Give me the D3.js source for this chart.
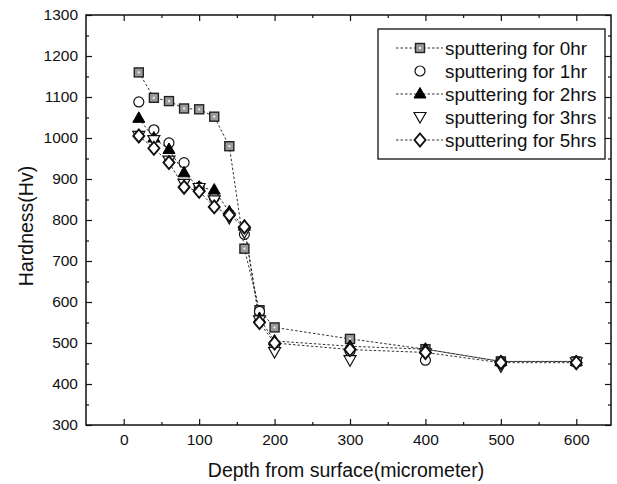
<!DOCTYPE html>
<html>
<head>
<meta charset="utf-8">
<script src="https://cdn.jsdelivr.net/npm/d3@7"></script>
<style>
  body { margin: 0; background: #fff; }
  text { font-family: "Liberation Sans", Arial, sans-serif; fill: #111; }
</style>
</head>
<body>
<div id="chart"></div>
<script>
// depth (micrometer)
const depth = [20, 40, 60, 80, 100, 120, 140, 160, 180, 200, 300, 400, 500, 600];
// hardness (Hv) per sputtering time
const hr0 = [1160, 1098, 1090, 1072, 1070, 1052, 980, 730, 580, 538, 510, 485, 455, 455];
const hr1 = [1088, 1020, 988, 940, 880, 855, 815, 765, 577, 495, 480, 458, 455, 455];
const hr2 = [1048, 1000, 972, 915, 880, 873, 820, 785, 560, 505, 492, 485, 455, 455];
const hr3 = [1005, 995, 945, 888, 878, 848, 805, 770, 555, 478, 458, 475, 443, 453];
const hr5 = [1005, 975, 940, 880, 870, 832, 812, 783, 550, 500, 484, 477, 452, 452];
const seriesNames = ['sputtering for 0hr', 'sputtering for 1hr', 'sputtering for 2hrs', 'sputtering for 3hrs', 'sputtering for 5hrs'];
const xTicks = [0, 100, 200, 300, 400, 500, 600];
const yTicks = [300, 400, 500, 600, 700, 800, 900, 1000, 1100, 1200, 1300];

const width = 617, height = 484;
const plotL = 86, plotR = 611, plotT = 15, plotB = 425;

const series = [
  { name: seriesNames[0], values: hr0, shape: 'square', line: true },
  { name: seriesNames[1], values: hr1, shape: 'circle', line: false },
  { name: seriesNames[2], values: hr2, shape: 'tri', line: true },
  { name: seriesNames[3], values: hr3, shape: 'itri', line: false },
  { name: seriesNames[4], values: hr5, shape: 'diamond', line: true }
];

const svg = d3.select('#chart').append('svg')
  .attr('width', width).attr('height', height);

const x = d3.scaleLinear().domain([-50, 646]).range([plotL, plotR]);
const y = d3.scaleLinear().domain([300, 1300]).range([plotB, plotT]);

// axes, ticks pointing inward
const minorX = [50, 150, 250, 350, 450, 550];
const minorY = d3.range(350, 1300, 100);
const fmt = d3.format('d');

function tickStyle(g) {
  g.select('.domain').remove();
  g.selectAll('line').attr('stroke', '#111').attr('stroke-width', 1.2);
  g.selectAll('text').attr('font-size', 15.5).attr('fill', '#111');
}

svg.append('g').attr('transform', `translate(0,${plotB})`)
  .call(d3.axisBottom(x).tickValues(xTicks).tickFormat(fmt).tickSizeInner(-6).tickSizeOuter(0).tickPadding(9))
  .call(tickStyle);
svg.append('g').attr('transform', `translate(0,${plotB})`)
  .call(d3.axisBottom(x).tickValues(minorX).tickSizeInner(-3).tickSizeOuter(0).tickFormat(''))
  .call(tickStyle);
svg.append('g').attr('transform', `translate(0,${plotT})`)
  .call(d3.axisTop(x).tickValues(xTicks).tickSizeInner(-6).tickSizeOuter(0).tickFormat(''))
  .call(tickStyle);
svg.append('g').attr('transform', `translate(0,${plotT})`)
  .call(d3.axisTop(x).tickValues(minorX).tickSizeInner(-3).tickSizeOuter(0).tickFormat(''))
  .call(tickStyle);

svg.append('g').attr('transform', `translate(${plotL},0)`)
  .call(d3.axisLeft(y).tickValues(yTicks).tickFormat(fmt).tickSizeInner(-6).tickSizeOuter(0).tickPadding(8))
  .call(tickStyle);
svg.append('g').attr('transform', `translate(${plotL},0)`)
  .call(d3.axisLeft(y).tickValues(minorY).tickSizeInner(-3).tickSizeOuter(0).tickFormat(''))
  .call(tickStyle);
svg.append('g').attr('transform', `translate(${plotR},0)`)
  .call(d3.axisRight(y).tickValues(yTicks).tickSizeInner(-6).tickSizeOuter(0).tickFormat(''))
  .call(tickStyle);
svg.append('g').attr('transform', `translate(${plotR},0)`)
  .call(d3.axisRight(y).tickValues(minorY).tickSizeInner(-3).tickSizeOuter(0).tickFormat(''))
  .call(tickStyle);

svg.append('rect')
  .attr('x', plotL).attr('y', plotT)
  .attr('width', plotR - plotL).attr('height', plotB - plotT)
  .attr('fill', 'none').attr('stroke', '#111').attr('stroke-width', 1.5);

// axis titles
svg.append('text')
  .attr('x', 346).attr('y', 477)
  .attr('text-anchor', 'middle').attr('font-size', 19.5)
  .text('Depth from surface(micrometer)');
svg.append('text')
  .attr('transform', 'translate(33,226) rotate(-90)')
  .attr('text-anchor', 'middle').attr('font-size', 19.5)
  .text('Hardness(Hv)');

// marker drawing
function drawMarker(g, shape) {
  if (shape === 'square') {
    g.append('rect').attr('x', -4.5).attr('y', -4.5).attr('width', 9).attr('height', 9)
      .attr('fill', '#9a9a9a').attr('stroke', '#222').attr('stroke-width', 1.4);
    g.append('rect').attr('x', -1).attr('y', -1).attr('width', 2).attr('height', 2)
      .attr('fill', '#eee');
  } else if (shape === 'circle') {
    g.append('circle').attr('r', 5)
      .attr('fill', '#fff').attr('stroke', '#111').attr('stroke-width', 1.2);
  } else if (shape === 'tri') {
    g.append('path').attr('d', 'M0,-6.5L6,4L-6,4Z')
      .attr('fill', '#000').attr('stroke', '#000').attr('stroke-width', 1);
  } else if (shape === 'itri') {
    g.append('path').attr('d', 'M0,6L6,-4.5L-6,-4.5Z')
      .attr('fill', '#fff').attr('stroke', '#111').attr('stroke-width', 1.2);
  } else if (shape === 'diamond') {
    g.append('path').attr('d', 'M0,-6.5L5.5,0L0,6.5L-5.5,0Z')
      .attr('fill', '#fff').attr('stroke', '#111').attr('stroke-width', 1.9);
  }
}

const line = d3.line().x(d => x(d[0])).y(d => y(d[1]));

series.forEach(s => {
  if (!s.line) return;
  svg.append('path')
    .datum(depth.map((d, i) => [d, s.values[i]]))
    .attr('d', line)
    .attr('fill', 'none').attr('stroke', '#333')
    .attr('stroke-width', 1).attr('stroke-dasharray', '2.5,2');
});

series.forEach(s => {
  svg.append('g').selectAll('g')
    .data(depth.map((d, i) => [d, s.values[i]]))
    .enter().append('g')
    .attr('transform', d => `translate(${x(d[0])},${y(d[1])})`)
    .each(function () { drawMarker(d3.select(this), s.shape); });
});

// legend
const lg = svg.append('g');
lg.append('rect')
  .attr('x', 378).attr('y', 29).attr('width', 227).attr('height', 130)
  .attr('fill', '#fff').attr('stroke', '#111').attr('stroke-width', 1.3);
series.forEach((s, i) => {
  const cy = 48 + i * 23;
  if (s.line) {
    lg.append('line').attr('x1', 396).attr('x2', 443).attr('y1', cy).attr('y2', cy)
      .attr('stroke', '#333').attr('stroke-width', 1).attr('stroke-dasharray', '2.5,2');
  }
  const m = lg.append('g').attr('transform', `translate(420,${cy})`);
  drawMarker(m, s.shape);
  lg.append('text').attr('x', 445).attr('y', cy).attr('dy', '0.36em')
    .attr('font-size', 18.8).text(s.name);
});
</script>
</body>
</html>
